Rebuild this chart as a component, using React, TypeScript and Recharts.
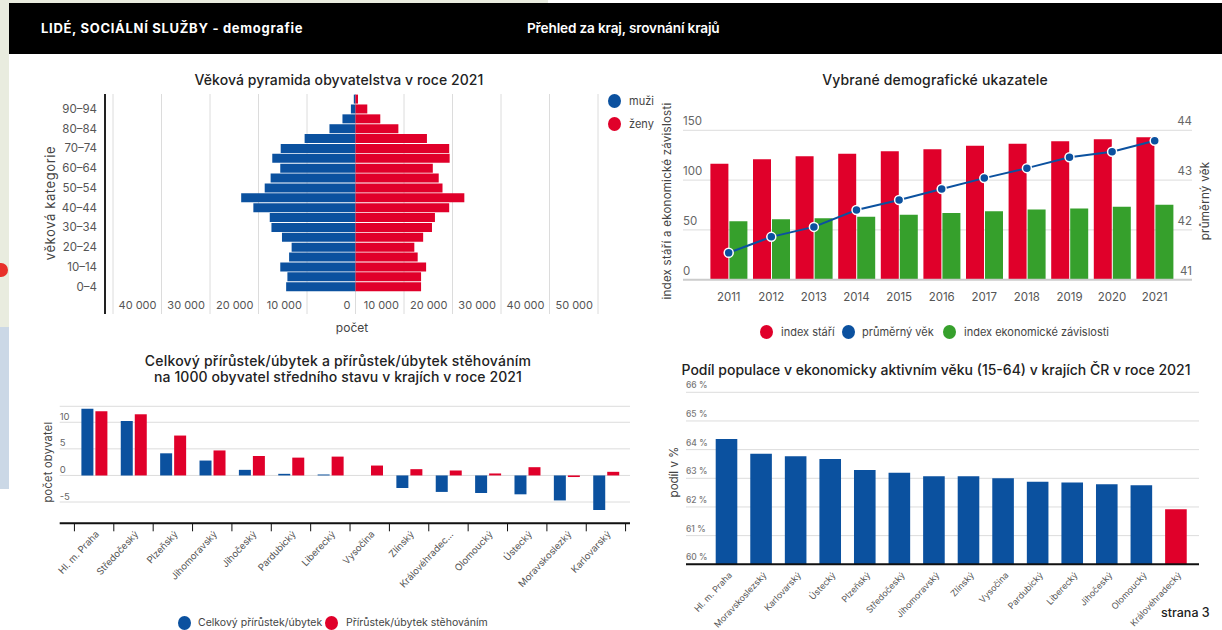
import React from "react";
import { BarChart, ComposedChart, Bar, Line, XAxis, YAxis, CartesianGrid, Cell } from "recharts";

const FONT = "Inter, 'Noto Sans', sans-serif";
const BLUE = "#0b519f";
const RED = "#e0002a";
const GREEN = "#36a02c";
const GRID = "#dcdcdc";
const INK = "#333";
const MUTED = "#555";

// Pyramid
const ageGroups = ["95+","90–94","85–89","80–84","75–79","70–74","65–69","60–64","55–59","50–54","45–49","40–44","35–39","30–34","25–29","20–24","15–19","10–14","5–9","0–4"];
const men = [-350,-950,-2690,-5370,-10490,-15420,-17160,-15510,-17500,-18720,-23570,-21060,-17680,-17330,-15160,-13170,-13690,-15510,-14040,-14300];
const women = [520,2430,5110,8840,14730,19320,19410,15940,17160,17940,22440,19320,16380,15770,13950,12130,12820,14560,13520,13520];
const pyramidTicks = [-50000,-40000,-30000,-20000,-10000,0,10000,20000,30000,40000,50000];

// Demographic indicators
const years = ["2011","2012","2013","2014","2015","2016","2017","2018","2019","2020","2021"];
const ageingIndex = [116.5,121,124,126.5,129,131,134.5,136.5,139,141,143];
const dependencyIndex = [58.6,60.6,61.6,63.3,65.3,67,68.6,70.6,71.6,73.3,75.3];
const meanAge = [41.54,41.86,42.06,42.4,42.6,42.82,43.04,43.24,43.46,43.57,43.79];

// Growth
const growthRegions = ["Hl. m. Praha","Středočeský","Plzeňský","Jihomoravský","Jihočeský","Pardubický","Liberecký","Vysočina","Zlínský","Královéhradec...","Olomoucký","Ústecký","Moravskoslezký","Karlovarský"];
const totalGrowth = [12.55,10.25,4.16,2.8,1.05,0.3,0.18,0,-2.36,-3.1,-3.3,-3.55,-4.7,-6.5];
const migrationGrowth = [12.05,11.5,7.5,4.7,3.66,3.35,3.54,1.86,1.18,0.93,0.37,1.55,-0.3,0.68];

// Active population
const shareRegions = ["Hl. m. Praha","Moravskoslezský","Karlovarský","Ústecký","Plzeňský","Středočeský","Jihomoravský","Zlínský","Vysočina","Pardubický","Liberecký","Jihočeský","Olomoucký","Královéhradecký"];
const shareValues = [64.37,63.86,63.77,63.67,63.29,63.19,63.07,63.07,63.0,62.88,62.85,62.79,62.76,61.92];
const highlightedRegion = "Královéhradecký";

const pyramidData = ageGroups.map((age, i) => ({ age, men: men[i], women: women[i] }));
const indicatorData = years.map((year, i) => ({ year, ageing: ageingIndex[i], dependency: dependencyIndex[i], meanAge: meanAge[i] }));
const growthData = growthRegions.map((region, i) => ({ region, total: totalGrowth[i], migration: migrationGrowth[i] }));
const shareData = shareRegions.map((region, i) => ({ region, share: shareValues[i] }));

const fmt = (v: number) => String(Math.abs(v)).replace(/\B(?=(\d{3})+$)/g, " ");

function Txt({ x, y, size = 11, color = INK, weight = 400, rotate = 0, anchor = "center", spacing = 0, children }: any) {
  const tx = anchor === "center" ? "-50%" : "0";
  return (
    <div style={{ position: "absolute", left: x, top: y, transform: `translate(${tx},-50%) rotate(${rotate}deg)`, transformOrigin: anchor === "center" ? "50% 50%" : "0 50%", fontSize: size, color, fontWeight: weight, whiteSpace: "nowrap", letterSpacing: spacing, fontFamily: FONT, lineHeight: 1 }}>
      {children}
    </div>
  );
}

function Key({ x, y, color, label, labelX, size = 11, spacing = 0 }: any) {
  return (
    <>
      <div style={{ position: "absolute", left: x - 6.5, top: y - 7, width: 13, height: 14, borderRadius: "50%", background: color }} />
      <Txt x={labelX} y={y} size={size} anchor="start" color="#444" spacing={spacing}>{label}</Txt>
    </>
  );
}

const PyramidXTick = ({ x, y, payload }: any) =>
  payload.value === -50000 ? null : (
    <text x={x - 5} y={y - 9} textAnchor="end" dominantBaseline="central" fontSize={11} fill={MUTED} fontFamily={FONT}>{fmt(payload.value)}</text>
  );

const PyramidYTick = ({ x, y, payload, index }: any) =>
  index % 2 === 0 ? null : (
    <text x={x - 8} y={y} textAnchor="end" dominantBaseline="central" fontSize={11.5} fill={MUTED} fontFamily={FONT}>{payload.value}</text>
  );

const AboveTick = ({ x, y, payload, anchor, size = 11.5, fill = MUTED, up = 9, suffix = "", weight = 400 }: any) => (
  <text x={x} y={y - up} textAnchor={anchor} dominantBaseline="central" fontSize={size} fill={fill} fontWeight={weight} fontFamily={FONT}>{payload.value}{suffix}</text>
);

const SlantTick = ({ x, y, payload, size = 9.5, band = 0, last = -1, index }: any) => (
  <g>
    {band > 0 && <line x1={x - band / 2} x2={x - band / 2} y1={y} y2={y + 8} stroke="#111" strokeWidth={1} />}
    {band > 0 && index === last && <line x1={x + band / 2} x2={x + band / 2} y1={y} y2={y + 8} stroke="#111" strokeWidth={1} />}
    <text x={x + 3} y={y + 9} textAnchor="end" dominantBaseline="central" fontSize={size} fill={MUTED} fontFamily={FONT} transform={`rotate(-47 ${x + 3} ${y + 9})`}>{payload.value}</text>
  </g>
);

export default function App() {
  return (
    <div style={{ position: "fixed", left: 0, top: 0, width: 1222, height: 630, overflow: "hidden", background: "#fff", fontFamily: FONT }}>
      <div style={{ position: "absolute", left: 0, top: 0, width: 9, height: 327, background: "#e9ecdf" }} />
      <div style={{ position: "absolute", left: 0, top: 0, width: 548, height: 4, background: "#e9ecdf" }} />
      <div style={{ position: "absolute", left: 0, top: 327, width: 9, height: 162, background: "#cbd8e6" }} />
      <div style={{ position: "absolute", left: 0, top: 263, width: 8, height: 14, background: "#e8302a", borderRadius: "0 7px 7px 0" }} />

      <div style={{ position: "absolute", left: 9, top: 3, width: 1213, height: 51, background: "#000" }} />
      <Txt x={41} y={28} size={13} weight={700} color="#fff" anchor="start" spacing={0.7}>LIDÉ, SOCIÁLNÍ SLUŽBY - demografie</Txt>
      <Txt x={527} y={29} size={13.6} weight={600} color="#fff" anchor="start" spacing={-0.15}>Přehled za kraj, srovnání krajů</Txt>

      <Txt x={339} y={80} size={14} weight={500} color="#222" spacing={0.08}>Věková pyramida obyvatelstva v roce 2021</Txt>
      <Txt x={935} y={80} size={14} weight={500} color="#222" spacing={0.15}>Vybrané demografické ukazatele</Txt>
      <Txt x={338} y={361} size={14} weight={500} color="#222" spacing={0.2}>Celkový přírůstek/úbytek a přírůstek/úbytek stěhováním</Txt>
      <Txt x={338} y={377} size={14} weight={500} color="#222" spacing={0.1}>na 1000 obyvatel středního stavu v krajích v roce 2021</Txt>
      <Txt x={936} y={370} size={14} weight={500} color="#222">Podíl populace v ekonomicky aktivním věku (15-64) v krajích ČR v roce 2021</Txt>

      {/* Pyramid */}
      <div style={{ position: "absolute", left: 0, top: 90, width: 660, height: 240 }}>
        <BarChart width={660} height={240} data={pyramidData} layout="vertical" stackOffset="sign" barCategoryGap="6%" margin={{ left: 104, right: 62, top: 4, bottom: 15 }}>
          <CartesianGrid horizontal={false} stroke={GRID} />
          <XAxis type="number" domain={[-50000, 50000]} ticks={pyramidTicks} interval={0} padding={{ left: 8, right: 0 }} axisLine={false} tickLine={false} tickSize={0} tickMargin={0} height={1} tick={<PyramidXTick />} />
          <YAxis type="category" dataKey="age" width={1} interval={0} padding={{ top: 0, bottom: 22.5 }} axisLine={{ stroke: "#222", strokeWidth: 2 }} tickLine={false} tickSize={0} tickMargin={0} tick={<PyramidYTick />} />
          <Bar dataKey="men" stackId="p" fill={BLUE} isAnimationActive={false} />
          <Bar dataKey="women" stackId="p" fill={RED} isAnimationActive={false} />
        </BarChart>
      </div>
      <Txt x={50} y={203} size={13} rotate={-90} color="#444" spacing={0.6}>věková kategorie</Txt>
      <Txt x={352} y={328} size={12} color="#444">počet</Txt>
      <Key x={614} y={101} color={BLUE} label="muži" labelX={629} />
      <Key x={614} y={124} color={RED} label="ženy" labelX={629} />

      {/* Indicators */}
      <div style={{ position: "absolute", left: 660, top: 100, width: 562, height: 210 }}>
        <ComposedChart width={562} height={210} data={indicatorData} barGap={1} barSize={18} margin={{ left: 22, right: 29, top: 30.3, bottom: 29.3 }}>
          <CartesianGrid vertical={false} stroke={GRID} yAxisId="l" />
          <XAxis dataKey="year" interval={0} padding={{ left: 24.4, right: 16 }} height={1} axisLine={{ stroke: "#ccc", strokeWidth: 2 }} tickLine={false} tickSize={0} tickMargin={13} tick={{ fontSize: 11.5, fill: MUTED, fontFamily: FONT }} />
          <YAxis yAxisId="l" domain={[0, 150]} ticks={[0, 50, 100, 150]} width={1} axisLine={false} tickLine={false} tickSize={0} tickMargin={0} tick={<AboveTick anchor="start" />} />
          <YAxis yAxisId="r" orientation="right" domain={[41, 44]} ticks={[41, 42, 43, 44]} width={1} axisLine={false} tickLine={false} tickSize={0} tickMargin={0} tick={<AboveTick anchor="end" />} />
          <Bar yAxisId="l" dataKey="ageing" fill={RED} isAnimationActive={false} />
          <Bar yAxisId="l" dataKey="dependency" fill={GREEN} isAnimationActive={false} />
          <Line yAxisId="r" dataKey="meanAge" stroke={BLUE} strokeWidth={2} dot={{ r: 4.5, fill: BLUE, stroke: "#fff", strokeWidth: 1.5 }} isAnimationActive={false} />
        </ComposedChart>
      </div>
      <Txt x={668} y={201} size={11.5} rotate={-90} color="#444" spacing={0.25}>index stáří a ekonomické závislosti</Txt>
      <Txt x={1206} y={201} size={11.5} rotate={-90} color="#444" spacing={0.3}>průměrný věk</Txt>
      <Key x={766} y={332} color={RED} label="index stáří" labelX={781} />
      <Key x={848} y={332} color={BLUE} label="průměrný věk" labelX={862} />
      <Key x={949} y={332} color={GREEN} label="index ekonomické závislosti" labelX={964} />

      {/* Growth */}
      <div style={{ position: "absolute", left: 0, top: 400, width: 640, height: 230 }}>
        <BarChart width={640} height={230} data={growthData} barGap={2} barSize={12} margin={{ left: 58.7, right: 10, top: 6.3, bottom: 105.7 }}>
          <CartesianGrid vertical={false} stroke={GRID} />
          <XAxis dataKey="region" interval={0} padding={{ left: 14.7, right: 4.4 }} height={1} axisLine={{ stroke: "#111", strokeWidth: 2 }} tickLine={false} tickSize={0} tickMargin={0} tick={<SlantTick band={39.3} last={growthRegions.length - 1} />} />
          <YAxis domain={[-9, 13]} ticks={[-5, 0, 5, 10]} width={1} axisLine={false} tickLine={false} tickSize={0} tickMargin={0} tick={<AboveTick anchor="start" size={9.5} fill="#666" up={6} />} />
          <Bar dataKey="total" fill={BLUE} isAnimationActive={false} />
          <Bar dataKey="migration" fill={RED} isAnimationActive={false} />
        </BarChart>
      </div>
      <Txt x={48} y={462} size={11} rotate={-90} color="#444" spacing={0.3}>počet obyvatel</Txt>
      <Key x={184} y={623} color={BLUE} label="Celkový přírůstek/úbytek" labelX={198} size={10.5} />
      <Key x={331} y={623} color={RED} label="Přírůstek/úbytek stěhováním" labelX={346} size={10.5} />

      {/* Share */}
      <div style={{ position: "absolute", left: 660, top: 380, width: 562, height: 250 }}>
        <BarChart width={562} height={250} data={shareData} barSize={21.6} margin={{ left: 25, right: 23, top: 12.3, bottom: 64.7 }}>
          <CartesianGrid vertical={false} stroke={GRID} />
          <XAxis dataKey="region" interval={0} padding={{ left: 23.7, right: 5.3 }} height={1} axisLine={{ stroke: "#111", strokeWidth: 2 }} tickLine={false} tickSize={0} tickMargin={0} tick={<SlantTick size={8.8} />} />
          <YAxis domain={[60, 66]} ticks={[60, 61, 62, 63, 64, 65, 66]} width={1} axisLine={false} tickLine={false} tickSize={0} tickMargin={0} tick={<AboveTick anchor="start" size={8.5} fill="#777" up={7} suffix=" %" weight={500} />} />
          <Bar dataKey="share" fill={BLUE} isAnimationActive={false}>
            {shareData.map((d) => (
              <Cell key={d.region} fill={d.region === highlightedRegion ? RED : BLUE} />
            ))}
          </Bar>
        </BarChart>
      </div>
      <Txt x={675} y={472} size={11.5} rotate={-90} color="#444">podíl v %</Txt>
      <Txt x={1161} y={613} size={12.5} weight={500} color="#222" anchor="start">strana 3</Txt>
    </div>
  );
}
